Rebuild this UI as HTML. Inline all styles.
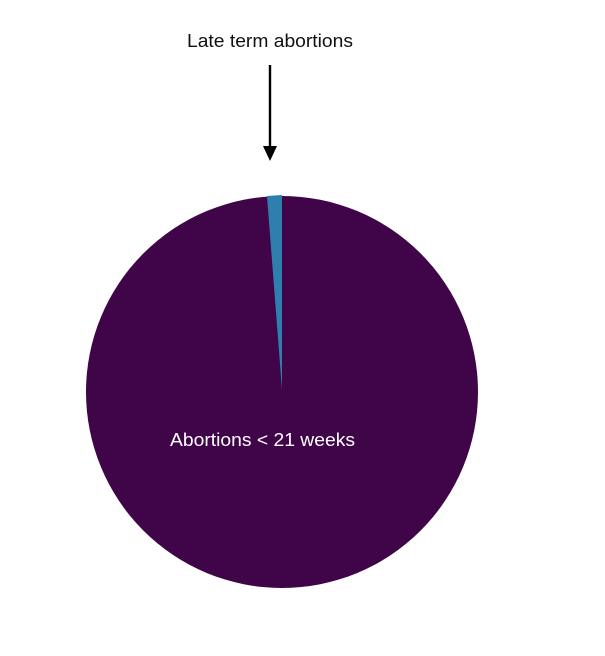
<!DOCTYPE html>
<html><head><style>body{margin:0;background:#fff}</style></head><body>
<svg width="605" height="656" xmlns="http://www.w3.org/2000/svg" style="display:block">
<rect width="605" height="656" fill="#fff"/>
<text x="187" y="47" textLength="166" lengthAdjust="spacingAndGlyphs" font-family="Liberation Sans, sans-serif" font-size="18" fill="#111">Late term abortions</text>
<line x1="270" y1="65" x2="270" y2="148" stroke="#000" stroke-width="2.4"/>
<polygon points="263,146 277,146 270,161" fill="#000"/>
<circle cx="282" cy="392" r="196" fill="#400448"/>
<path d="M282,390 L282,195 L267,196 Z" fill="#2e7eae"/>
<text x="170" y="446" textLength="185" lengthAdjust="spacingAndGlyphs" font-family="Liberation Sans, sans-serif" font-size="18" fill="#fff">Abortions &lt; 21 weeks</text>
</svg>
</body></html>
